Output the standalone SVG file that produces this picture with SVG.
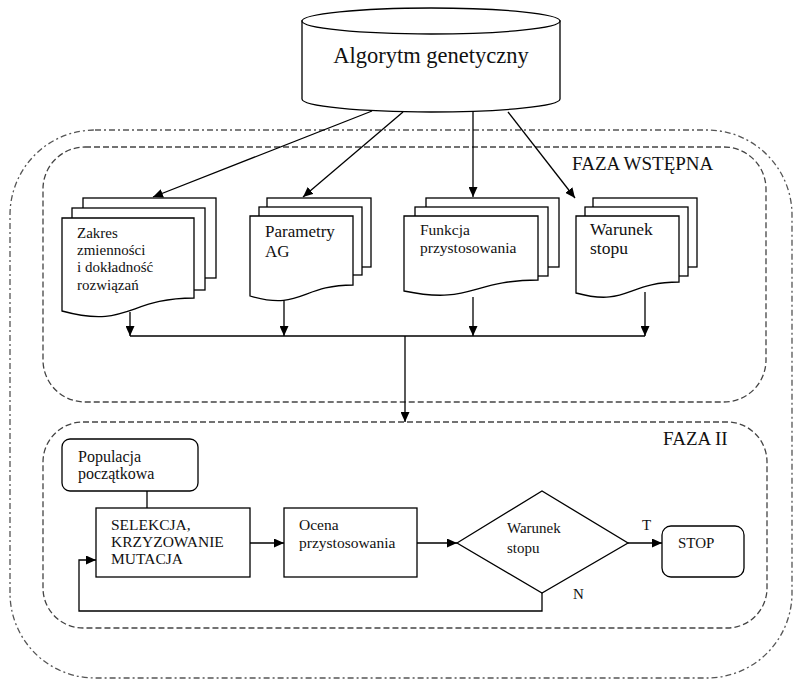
<svg xmlns="http://www.w3.org/2000/svg" width="794" height="680" viewBox="0 0 794 680" font-family="'Liberation Serif', 'DejaVu Serif', serif">
<defs>
<marker id="ah" markerUnits="userSpaceOnUse" markerWidth="11" markerHeight="9" refX="10" refY="4.5" orient="auto">
<path d="M0,0 L10,4.5 L0,9 Z" fill="#000"/>
</marker>
</defs>
<style>
text{fill:#111}
.s{fill:#fff;stroke:#000;stroke-width:1.3}
.ln{fill:none;stroke:#000;stroke-width:1.3}
.ar{fill:none;stroke:#000;stroke-width:1.3;marker-end:url(#ah)}
.dash{fill:none;stroke:#444;stroke-width:1.3;stroke-dasharray:6 3}
.dd{fill:none;stroke:#555;stroke-width:1.3;stroke-dasharray:6 3 2 3}
.t15{font-size:15px}.t155{font-size:15.5px}.t16{font-size:16px}.t17{font-size:17px}.t175{font-size:17.5px}.t19{font-size:19px}
</style>
<rect fill="#fff" width="794" height="680"/>
<g id="frames">
<rect class="dd" x="10" y="130" width="782" height="548" rx="85" ry="85"/>
<rect class="dash" x="43" y="147" width="723" height="255" rx="42" ry="42"/>
<rect class="dash" x="43" y="422" width="724" height="206" rx="40" ry="40"/>
<text class="t19" x="572" y="170">FAZA WSTĘPNA</text>
<text class="t19" x="663" y="445">FAZA II</text>
</g>
<g id="connectors">
<line class="ar" x1="372" y1="111" x2="153" y2="197"/>
<line class="ar" x1="403" y1="112" x2="303" y2="197"/>
<line class="ar" x1="473" y1="112" x2="473" y2="197"/>
<line class="ar" x1="508" y1="112" x2="575" y2="198"/>
<line class="ar" x1="130" y1="312" x2="130" y2="336"/>
<line class="ar" x1="284" y1="300" x2="284" y2="336"/>
<line class="ar" x1="473" y1="297" x2="473" y2="336"/>
<line class="ar" x1="645" y1="292" x2="645" y2="336"/>
<line class="ln" x1="130" y1="336" x2="645" y2="336"/>
<line class="ar" x1="405" y1="336" x2="405" y2="422"/>
<line class="ln" x1="147" y1="491" x2="147" y2="508"/>
<line class="ar" x1="250" y1="543" x2="284" y2="543"/>
<line class="ar" x1="417" y1="543" x2="457" y2="543"/>
<line class="ar" x1="628" y1="543" x2="662" y2="543"/>
<polyline class="ar" points="542,593 542,611 79,611 79,560 96,560"/>
<text class="t15" x="642" y="530">T</text>
<text class="t15" x="573" y="599">N</text>
</g>
<g id="algorytm">
<path class="s" d="M302,21 V99 A129,13 0 0 0 560,99 V21 Z"/>
<ellipse class="s" cx="431" cy="21" rx="129" ry="13"/>
<text x="431" y="63" font-size="22.5" text-anchor="middle">Algorytm genetyczny</text>
</g>
<g id="zakres">
<rect class="s" x="83" y="198" width="133" height="80"/>
<rect class="s" x="72" y="208" width="133" height="82"/>
<path class="s" d="M62,218 H194 V298 C128,298 128,329 62,311 Z"/>
<text class="t15" x="77" y="238">Zakres</text>
<text class="t15" x="77" y="255">zmienności</text>
<text class="t15" x="77" y="272">i dokładność</text>
<text class="t15" x="77" y="290">rozwiązań</text>
</g>
<g id="parametry">
<rect class="s" x="267" y="198" width="104" height="69"/>
<rect class="s" x="259" y="207" width="103" height="68"/>
<path class="s" d="M250,216 H353 V285 C301,285 301,311 250,296 Z"/>
<text class="t17" x="265" y="237">Parametry</text>
<text class="t17" x="265" y="257">AG</text>
</g>
<g id="funkcja">
<rect class="s" x="426" y="198" width="133" height="69"/>
<rect class="s" x="415" y="207" width="133" height="69"/>
<path class="s" d="M404,216 H538 V280 C471,280 471,305 404,291 Z"/>
<text class="t155" x="420" y="235">Funkcja</text>
<text class="t155" x="420" y="253">przystosowania</text>
</g>
<g id="warunek1">
<rect class="s" x="593" y="198" width="104" height="69"/>
<rect class="s" x="585" y="207" width="103" height="69"/>
<path class="s" d="M576,216 H679 V282 C627,282 627,307 576,293 Z"/>
<text class="t175" x="590" y="235">Warunek</text>
<text class="t175" x="590" y="254">stopu</text>
</g>
<g id="populacja">
<rect class="s" x="62" y="439" width="136" height="52" rx="8" ry="8"/>
<text class="t16" x="78" y="462">Populacja</text>
<text class="t16" x="78" y="479">początkowa</text>
</g>
<g id="selekcja">
<rect class="s" x="96" y="508" width="154" height="69"/>
<text class="t155" x="111" y="530">SELEKCJA,</text>
<text class="t155" x="111" y="547">KRZYZOWANIE</text>
<text class="t155" x="111" y="564">MUTACJA</text>
</g>
<g id="ocena">
<rect class="s" x="284" y="508" width="133" height="69"/>
<text class="t155" x="299" y="530">Ocena</text>
<text class="t155" x="299" y="548">przystosowania</text>
</g>
<g id="warunek2">
<polygon class="s" points="457,543 542,491 628,543 542,593"/>
<text class="t15" x="507" y="533">Warunek</text>
<text class="t15" x="507" y="553">stopu</text>
</g>
<g id="stop">
<rect class="s" x="662" y="526" width="82" height="51" rx="9" ry="9"/>
<text class="t15" x="678" y="548">STOP</text>
</g>
</svg>
